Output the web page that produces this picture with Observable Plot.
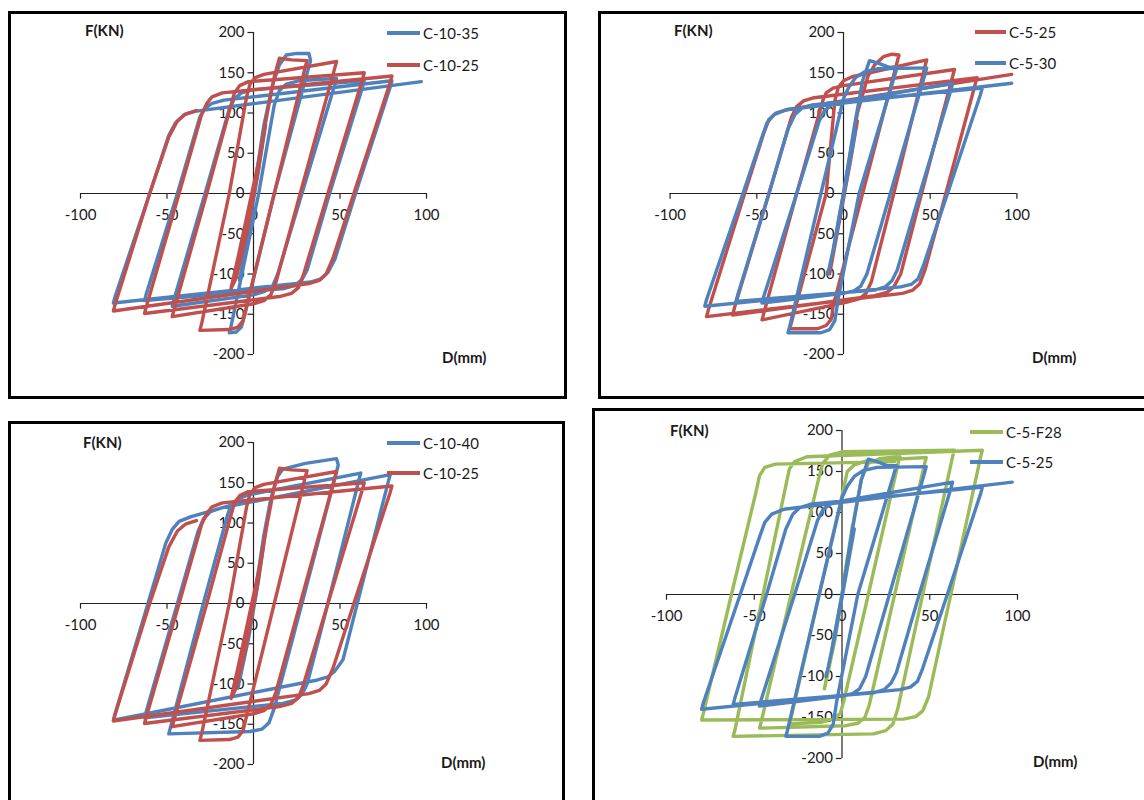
<!DOCTYPE html>
<html>
<head>
<meta charset="utf-8">
<script src="https://cdn.jsdelivr.net/npm/d3@7"></script>
<script src="https://cdn.jsdelivr.net/npm/@observablehq/plot@0.6"></script>
<style>
  html, body { margin: 0; padding: 0; background: #fff; }
  body { width: 1144px; height: 800px; overflow: hidden; position: relative; font-family: Lato, "Open Sans", sans-serif; }
  .box { position: absolute; border: 3px solid #000; box-sizing: border-box; }
  .plot { position: absolute; }
  .plot svg { overflow: visible; }
  .lab { position: absolute; font-family: Lato, sans-serif; font-weight: bold; font-size: 15px; color: #1a1a1a; line-height: 1; transform: translateY(-50%); white-space: nowrap; }
  .leg { position: absolute; font-family: Lato, sans-serif; font-size: 15px; color: #1a1a1a; line-height: 1; transform: translateY(-50%); white-space: nowrap; }
  .legline { position: absolute; height: 4px; transform: translateY(-50%); }
</style>
</head>
<body>
<script>
// ---------- tick values ----------
const xTicks = [-100, -50, 0, 50, 100];
const yTicks = [-200, -150, -100, -50, 0, 50, 100, 150, 200];

// ---------- series (D in mm, F in kN) ----------
const C10_35 = [
[0,0],[3,40],[0,0],[-3,-40],[0,0],[7,85],[3,30],[-3,-45],[-8,-108],[-5,-70],[0,0],[6,85],[11,135],[15,160],[19,172],[25,174],[32,174],[33,165],
[12,0],[-5,-150],[-7,-166],[-10,-172],[-14,-173],
[-13,-165],[3,0],[12,110],[15,128],[19,136],[26,140],[48,143],
[47,135],[28,0],[14,-100],[11,-115],[6,-122],[0,-126],[-47,-140],
[-46,-132],[-28,0],[-14,105],[-11,118],[-7,125],[0,129],[64,140],
[63,132],[44,0],[31,-95],[28,-107],[24,-114],[18,-118],[-63,-133],
[-62,-125],[-44,0],[-31,95],[-28,106],[-24,112],[-17,116],[80,140],
[79,132],[59,0],[47,-82],[43,-98],[39,-106],[33,-110],[-81,-136],
[-80,-128],[-60,0],[-49,72],[-45,88],[-40,98],[-34,102],[97,139]
];

const C10_25 = [
[0,0],[3,35],[0,0],[-3,-35],[0,0],[6,75],[2,20],[-4,-50],[-10,-105],[-13,-118],[-9,-80],[-3,-20],[3,40],[8,100],[12,145],[15,168],[22,166],[31,165],
[30,158],[12,0],[-4,-140],[-6,-158],[-9,-166],[-14,-169],[-31,-170],
[-30,-162],[-14,0],[-4,120],[-2,136],[1,144],[6,148],[48,164],
[47,156],[27,0],[13,-110],[10,-126],[6,-133],[0,-137],[-47,-153],
[-46,-145],[-27,0],[-13,110],[-11,125],[-8,134],[-3,139],[64,150],
[63,142],[43,0],[29,-100],[26,-117],[22,-124],[15,-128],[-63,-149],
[-62,-141],[-43,0],[-30,98],[-27,112],[-24,120],[-18,125],[80,146],
[79,138],[58,0],[46,-80],[42,-100],[38,-108],[32,-112],[-81,-146],
[-80,-138],[-60,0],[-49,70],[-44,90],[-39,99],[-33,103]
];

const C5_25 = [
[0,0],[4,40],[0,0],[-3,-35],[0,0],[8,90],[4,40],[-2,-30],[-8,-100],[-5,-60],[0,0],[8,100],[14,145],[18,160],[23,170],[28,173],[32,172],
[31,164],[11,0],[-6,-140],[-7,-156],[-10,-164],[-15,-168],[-31,-168],
[-30,-160],[-10,0],[-5,115],[-3,132],[0,140],[5,145],[48,166],
[47,158],[29,0],[16,-110],[13,-124],[9,-131],[2,-135],[-47,-157],
[-46,-149],[-27,0],[-12,115],[-10,125],[-6,131],[0,134],[64,154],
[63,146],[45,0],[33,-100],[29,-116],[25,-123],[18,-127],[-64,-151],
[-63,-143],[-43,0],[-30,95],[-27,108],[-23,115],[-17,119],[77,144],
[76,136],[59,0],[47,-95],[44,-112],[40,-120],[34,-124],[-79,-153],
[-78,-145],[-57,0],[-46,75],[-43,92],[-39,100],[-33,104],[97,148]
];

const C5_30 = [
[0,0],[4,45],[0,0],[-3,-35],[0,0],[7,80],[2,20],[-4,-50],[-9,-100],[-6,-70],[0,0],[6,80],[11,140],[15,165],[20,162],[26,157],[31,157],
[30,150],[9,0],[-3,-130],[-5,-158],[-8,-169],[-13,-173],[-32,-173],
[-31,-165],[-13,0],[0,118],[3,132],[7,144],[12,151],[20,155],[48,156],
[47,148],[27,0],[13.5,-100],[10,-115],[6,-121],[0,-124],[-47,-136],
[-46,-128],[-27,0],[-14,90],[-11,103],[-7,110],[0,114],[63,137],
[62,129],[44,0],[31,-95],[28,-108],[24,-116],[18,-120],[-62,-134],
[-61,-126],[-43,0],[-32,80],[-28,98],[-24,106],[-18,110],[80,131],
[79,123],[60,0],[46,-90],[43,-106],[39,-113],[33,-116],[-80,-140],
[-79,-132],[-58,0],[-47,70],[-44,88],[-40,98],[-33,104],[97,137]
];

const C10_40 = [
[0,0],[3,40],[0,0],[-3,-40],[0,0],[7,90],[3,30],[-3,-45],[-9,-105],[-5,-65],[0,0],[6,85],[10,130],[14,158],[17,167],[30,174],[48,180],[49,172],
[28,0],[12,-130],[9,-148],[5,-156],[-2,-159],[-49,-162],
[-48,-154],[-29,0],[-15,110],[-13,122],[-9,130],[-3,135],[62,162],
[61,154],[43,0],[31,-100],[28,-113],[24,-120],[17,-124],[-63,-142],
[-62,-134],[-44,0],[-32,90],[-29,105],[-25,114],[-18,119],[79,160],
[78,152],[60,0],[51.7,-70],[47,-84],[43,-91],[37,-95],[-81,-145],
[-80,-137],[-61,0],[-50.7,75],[-47,92],[-43,102],[-36,108],[0,130]
];

const C5_F28 = [
[0,0],[3,45],[0,0],[-3,-40],[0,0],[6,85],[2,25],[-4,-55],[-10,-115],[-6,-70],[0,0],[7,95],[11,140],[15,160],[22,166],[33,168],
[32,160],[15,0],[1,-130],[-1,-145],[-5,-152],[-12,-156],[-30,-158],
[-29,-150],[-13,0],[1,130],[3,150],[7,158],[14,163],[48,167],
[47,159],[30,0],[15.5,-135],[13,-150],[9,-157],[2,-160],[-47,-163],
[-46,-155],[-29,0],[-13.4,140],[-11,160],[-7,170],[0,174],[64,176],
[63,168],[46,0],[31.7,-140],[29,-158],[25,-166],[18,-170],[-62,-173],
[-61,-165],[-45,0],[-31.8,135],[-30,153],[-27,162],[-20,168],[80,176],
[79,168],[62,0],[49.3,-125],[46,-142],[42,-149],[35,-152],[-80,-153],
[-79,-145],[-63,0],[-49,125],[-47,145],[-44,155],[-38,159],[30,162]
];

// ---------- colours ----------
const BLUE = "#4f81bd", RED = "#c0504d", GREEN = "#9bbb59";

// ---------- panels (legend order top to bottom; drawing order = bottom first) ----------
const panels = [
  { box: [8, 11, 559, 388], svg: [9, 12, 557, 386], m: [20, 140, 44, 71],
    fk: [85, 30], dm: [442, 357], leg: [387, 420, 423, 33, 65],
    series: [["C-10-35", C10_35, BLUE], ["C-10-25", C10_25, RED]], draw: [0, 1] },
  { box: [598, 11, 600, 388], svg: [600, 12, 544, 386], m: [20, 127.6, 44, 69.6],
    fk: [674, 30], dm: [1032, 357], leg: [975, 1006, 1009, 32, 63],
    series: [["C-5-25", C5_25, RED], ["C-5-30", C5_30, BLUE]], draw: [0, 1] },
  { box: [8, 421, 557, 420], svg: [9, 422, 554, 378], m: [20, 137, 36, 71],
    fk: [83, 442], dm: [441, 762], leg: [387, 420, 423, 443, 473],
    series: [["C-10-40", C10_40, BLUE], ["C-10-25", C10_25, RED]], draw: [0, 1] },
  // the blue curve of this panel is the same record as C-5-30 above; it is labelled C-5-25 in the original
  { box: [592, 408, 600, 420], svg: [594, 410, 550, 390], m: [20, 127, 42, 72],
    fk: [670, 430], dm: [1033, 761], leg: [970, 1003, 1006, 432, 462],
    series: [["C-5-F28", C5_F28, GREEN], ["C-5-25", C5_30, BLUE]], draw: [0, 1] }
];

function place(el, left, top) { el.style.left = left + "px"; el.style.top = top + "px"; document.body.appendChild(el); }

for (const p of panels) {
  const box = document.createElement("div");
  box.className = "box";
  box.style.width = p.box[2] + "px"; box.style.height = p.box[3] + "px";
  place(box, p.box[0], p.box[1]);

  const lines = p.draw.map(i => {
    const [name, pts, color] = p.series[i];
    return Plot.line(pts.map(([D, F]) => ({D, F})), {
      x: "D", y: "F", stroke: color, strokeWidth: 3.4, curve: "linear",
      strokeLinejoin: "round", strokeLinecap: "round"
    });
  });

  const chart = Plot.plot({
    width: p.svg[2], height: p.svg[3],
    marginTop: p.m[0], marginRight: p.m[1], marginBottom: p.m[2], marginLeft: p.m[3],
    x: { domain: [-100, 100], axis: null },
    y: { domain: [-200, 200], axis: null },
    style: { background: "transparent", overflow: "visible" },
    marks: [
      Plot.ruleY([0], { x1: -100, x2: 100, stroke: "#222", strokeWidth: 1.2 }),
      Plot.ruleX([0], { y1: -200, y2: 200, stroke: "#222", strokeWidth: 1.2 }),
      Plot.ruleX(xTicks, { x: d => d, y1: 0, y2: -7, stroke: "#222", strokeWidth: 1.2 }),
      Plot.ruleY(yTicks, { y: d => d, x1: 0, x2: -3.2, stroke: "#222", strokeWidth: 1.2 }),
      Plot.text(xTicks, { x: d => d, y: 0, dy: 22, text: d => String(d), fontSize: 15, fontFamily: "Lato", fill: "#1a1a1a" }),
      Plot.text(yTicks, { x: 0, y: d => d, dx: -9, textAnchor: "end", text: d => String(d), fontSize: 15, fontFamily: "Lato", fill: "#1a1a1a" }),
      ...lines
    ]
  });
  const wrap = document.createElement("div");
  wrap.className = "plot";
  wrap.appendChild(chart);
  place(wrap, p.svg[0], p.svg[1]);

  const fk = document.createElement("div"); fk.className = "lab"; fk.textContent = "F(KN)"; place(fk, p.fk[0], p.fk[1]);
  const dm = document.createElement("div"); dm.className = "lab"; dm.textContent = "D(mm)"; place(dm, p.dm[0], p.dm[1]);

  p.series.forEach(([name, pts, color], k) => {
    const y = p.leg[3 + k];
    const ln = document.createElement("div"); ln.className = "legline";
    ln.style.width = (p.leg[1] - p.leg[0]) + "px"; ln.style.background = color;
    place(ln, p.leg[0], y);
    const tx = document.createElement("div"); tx.className = "leg"; tx.textContent = name;
    place(tx, p.leg[2], y);
  });
}
</script>
</body>
</html>
